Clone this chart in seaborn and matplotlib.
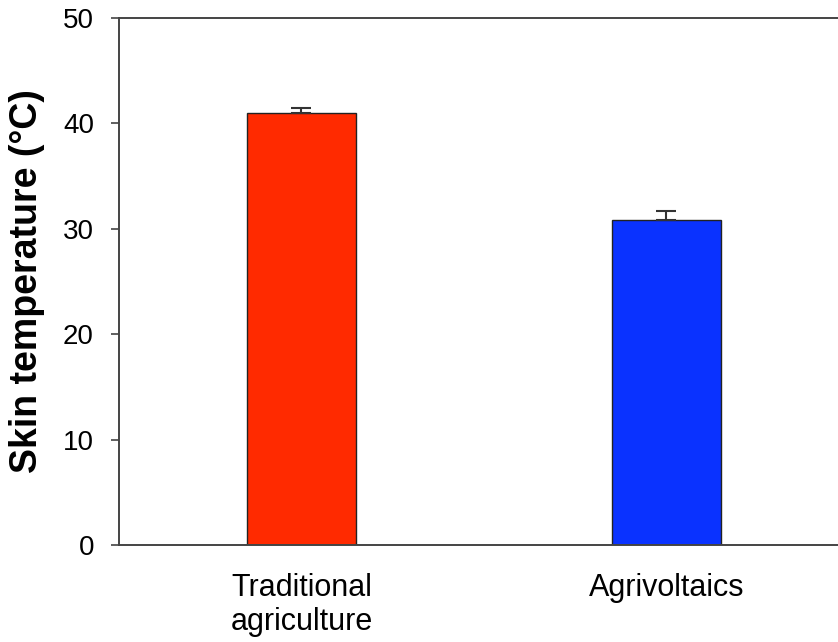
import matplotlib
matplotlib.use("Agg")
import matplotlib.pyplot as plt
import seaborn as sns
import pandas as pd

categories = ["Traditional\nagriculture", "Agrivoltaics"]
values = [41.0, 30.8]
errors = [0.5, 0.9]
colors = ["#ff2a00", "#0a32ff"]
yticks = [0, 10, 20, 30, 40, 50]

sns.set_theme(style="white")
plt.rcParams['font.family'] = ['Liberation Sans', 'DejaVu Sans']
plt.rcParams['text.color'] = 'black'
plt.rcParams['axes.labelcolor'] = 'black'
plt.rcParams['xtick.color'] = 'black'
plt.rcParams['ytick.color'] = 'black'

df = pd.DataFrame({"cat": categories, "val": values})

fig = plt.figure(figsize=(8.38, 6.42), dpi=100)
ax = fig.add_axes([0.142, 0.151, 0.858, 0.821])

sns.barplot(data=df, x="cat", y="val", hue="cat", palette=colors, legend=False,
            saturation=1, width=0.30, edgecolor="#222222", linewidth=1.0,
            errorbar=None, ax=ax)
ax.errorbar(range(len(values)), values, yerr=[[0] * len(errors), errors],
            fmt="none", ecolor="#333333", elinewidth=1.5, capsize=7.5, capthick=1.5)

ax.set_xlim(-0.5, 1.47)
ax.set_ylim(0, 50)
ax.set_yticks(yticks)
ax.set_yticklabels([str(t) for t in yticks])
ax.set_xlabel("")
ax.set_ylabel("Skin temperature (°C)", fontsize=27, fontweight="bold", labelpad=13)

ax.tick_params(axis="y", direction="out", length=6, width=1.2, color="#444444",
               labelsize=20, pad=12, left=True)
ax.tick_params(axis="x", length=0, labelsize=22, pad=20)

for s in ["left", "bottom", "top"]:
    ax.spines[s].set_color("#444444")
    ax.spines[s].set_linewidth(1.4)
ax.spines["right"].set_visible(False)

fig.savefig("out.png", dpi=100)
